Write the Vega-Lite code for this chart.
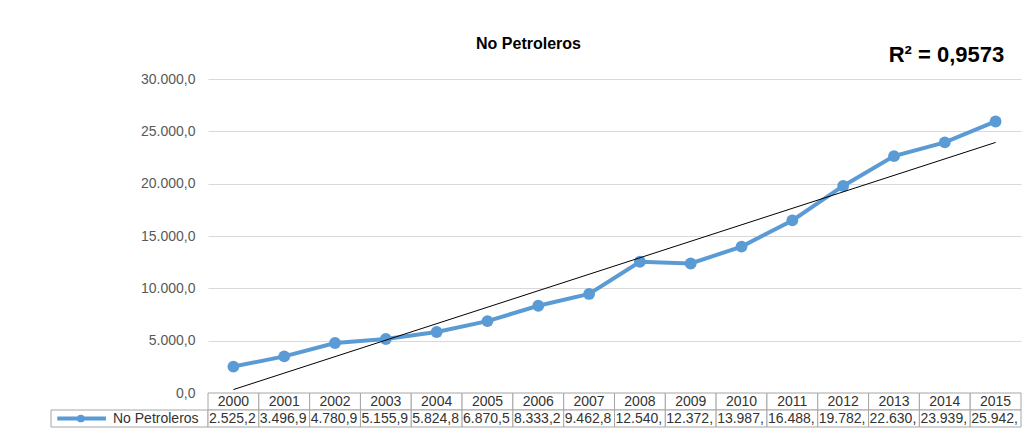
{
  "$schema": "https://vega.github.io/schema/vega-lite/v6.json",
  "padding": {"left": 50, "top": 35, "right": 0, "bottom": 0},
  "background": "white",
  "config": {
    "locale": {"number": {"decimal": ",", "thousands": ".", "grouping": [3], "currency": ["", ""]}},
    "font": "Liberation Sans",
    "view": {"stroke": null}
  },
  "datasets": {
    "np": [
      {"year": 2000, "value": 2525.2},
      {"year": 2001, "value": 3496.9},
      {"year": 2002, "value": 4780.9},
      {"year": 2003, "value": 5155.9},
      {"year": 2004, "value": 5824.8},
      {"year": 2005, "value": 6870.5},
      {"year": 2006, "value": 8333.2},
      {"year": 2007, "value": 9462.8},
      {"year": 2008, "value": 12540.4},
      {"year": 2009, "value": 12372.1},
      {"year": 2010, "value": 13987.3},
      {"year": 2011, "value": 16488.5},
      {"year": 2012, "value": 19782.6},
      {"year": 2013, "value": 22630.2},
      {"year": 2014, "value": 23939.4},
      {"year": 2015, "value": 25942.1}
    ]
  },
  "bounds": "flush",
  "spacing": 157,
  "hconcat": [
    {
      "bounds": "flush",
      "spacing": 0,
      "vconcat": [
        {
          "width": 157,
          "height": 314,
          "data": {"values": [{}]},
          "mark": {"type": "point", "opacity": 0},
          "encoding": {}
        },
        {
          "width": 157,
          "height": 34,
          "data": {"values": [{"label": "No Petroleros"}]},
          "layer": [
            {
              "mark": {"type": "rect", "fill": "white", "stroke": "#a6a6a6", "strokeWidth": 1},
              "encoding": {
                "x": {"datum": 0, "type": "quantitative", "scale": {"domain": [0, 1], "nice": false, "zero": false}, "axis": null},
                "x2": {"datum": 1},
                "y": {"datum": 0, "type": "quantitative", "scale": {"domain": [0, 2], "nice": false, "zero": false}, "axis": null},
                "y2": {"datum": 1}
              }
            },
            {
              "mark": {"type": "rule", "color": "#5B9BD5", "strokeWidth": 4},
              "encoding": {
                "x": {"datum": 0.04, "type": "quantitative"},
                "x2": {"datum": 0.35},
                "y": {"datum": 0.5, "type": "quantitative"}
              }
            },
            {
              "mark": {"type": "point", "filled": true, "opacity": 1, "color": "#5B9BD5", "size": 60},
              "encoding": {
                "x": {"datum": 0.19, "type": "quantitative"},
                "y": {"datum": 0.5, "type": "quantitative"}
              }
            },
            {
              "mark": {"type": "text", "align": "right", "baseline": "middle", "fontSize": 14, "color": "#333333"},
              "encoding": {
                "x": {"datum": 0.94, "type": "quantitative"},
                "y": {"datum": 0.5, "type": "quantitative"},
                "text": {"field": "label"}
              }
            }
          ]
        }
      ]
    },
    {
      "bounds": "flush",
      "spacing": 0,
      "vconcat": [
        {
          "width": 813,
          "height": 314,
          "title": {"text": "No Petroleros", "fontSize": 16, "fontWeight": "bold", "color": "#000000", "dx": -86, "offset": -21, "baseline": "alphabetic", "anchor": "middle"},
          "layer": [
            {
              "data": {"name": "np"},
              "mark": {"type": "line", "color": "#5B9BD5", "strokeWidth": 4},
              "encoding": {
                "x": {"field": "year", "type": "quantitative", "scale": {"domain": [1999.5, 2015.5], "nice": false, "zero": false}, "axis": null},
                "y": {"field": "value", "type": "quantitative", "scale": {"domain": [0, 30000], "nice": false},
                  "axis": {"values": [0, 5000, 10000, 15000, 20000, 25000, 30000], "format": ",.1f", "domain": false, "ticks": false, "labelPadding": 13, "labelFontSize": 14, "labelColor": "#595959", "gridColor": "#d9d9d9", "title": null}}
              }
            },
            {
              "data": {"name": "np"},
              "mark": {"type": "point", "filled": true, "opacity": 1, "color": "#5B9BD5", "size": 140},
              "encoding": {
                "x": {"field": "year", "type": "quantitative"},
                "y": {"field": "value", "type": "quantitative"}
              }
            },
            {
              "data": {"name": "np"},
              "transform": [{"regression": "value", "on": "year", "extent": [2000, 2015]}],
              "mark": {"type": "line", "color": "#000000", "strokeWidth": 1},
              "encoding": {
                "x": {"field": "year", "type": "quantitative"},
                "y": {"field": "value", "type": "quantitative"}
              }
            },
            {
              "data": {"values": [{"label": "R² = 0,9573", "year": 2015.17, "value": 32300}]},
              "mark": {"type": "text", "align": "right", "baseline": "middle", "fontSize": 22, "fontWeight": "bold", "color": "#000000"},
              "encoding": {
                "x": {"field": "year", "type": "quantitative"},
                "y": {"field": "value", "type": "quantitative"},
                "text": {"field": "label", "type": "nominal"}
              }
            }
          ]
        },
        {
          "width": 813,
          "height": 34,
          "data": {"name": "np"},
          "encoding": {
            "x": {"field": "year", "type": "ordinal", "scale": {"paddingInner": 0, "paddingOuter": 0}, "axis": null}
          },
          "layer": [
            {
              "mark": {"type": "rect", "fill": "white", "stroke": "#a6a6a6", "strokeWidth": 1},
              "encoding": {"y": {"datum": "h", "type": "ordinal", "scale": {"domain": ["h", "v"], "paddingInner": 0, "paddingOuter": 0}, "axis": null}}
            },
            {
              "mark": {"type": "rect", "fill": "white", "stroke": "#a6a6a6", "strokeWidth": 1},
              "encoding": {"y": {"datum": "v", "type": "ordinal"}}
            },
            {
              "mark": {"type": "text", "baseline": "middle", "fontSize": 14, "color": "#333333"},
              "encoding": {"y": {"datum": "h", "type": "ordinal"}, "text": {"field": "year", "type": "ordinal"}}
            },
            {
              "mark": {"type": "text", "align": "left", "baseline": "middle", "dx": 1, "fontSize": 14, "limit": 50, "ellipsis": "\u200b", "color": "#333333"},
              "encoding": {
                "x": {"field": "year", "type": "ordinal", "bandPosition": 0},
                "y": {"datum": "v", "type": "ordinal"},
                "text": {"field": "value", "type": "quantitative", "format": ",.1f"}
              }
            }
          ]
        }
      ]
    }
  ]
}
